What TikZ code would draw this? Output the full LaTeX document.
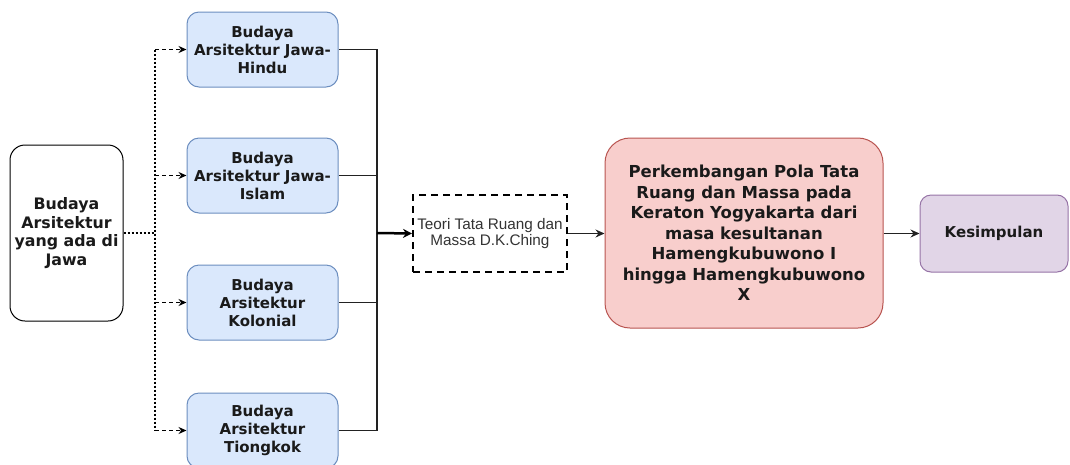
\documentclass[tikz,border=0pt]{standalone}
\usepackage{fontspec}
\setmainfont{DejaVu Sans}
\newfontfamily\arialf{Liberation Sans}
\usetikzlibrary{arrows.meta,positioning}
\definecolor{bluefill}{HTML}{DAE8FC}
\definecolor{bluedraw}{HTML}{6C8EBF}
\definecolor{pinkfill}{HTML}{F8CECC}
\definecolor{pinkdraw}{HTML}{B85450}
\definecolor{purpfill}{HTML}{E1D5E7}
\definecolor{purpdraw}{HTML}{9673A6}
\definecolor{txt}{HTML}{1A1A1A}
\definecolor{linec}{HTML}{222222}
\tikzset{
  box/.style={rectangle, draw, line width=1pt, align=center, inner sep=2pt, text=txt,
    font=\bfseries\fontsize{15}{18}\selectfont},
  leftbox/.style={box, draw=black, fill=white, rounded corners=15pt, minimum width=113pt, minimum height=176pt,
    font=\bfseries\fontsize{15.8}{18.5}\selectfont},
  bluebox/.style={box, draw=bluedraw, fill=bluefill, rounded corners=12pt, minimum width=151pt, minimum height=75pt},
  pinkbox/.style={box, draw=pinkdraw, fill=pinkfill, rounded corners=25pt, minimum width=278pt, minimum height=190pt,
    font=\bfseries\fontsize{16.5}{20.5}\selectfont},
  purpbox/.style={box, draw=purpdraw, fill=purpfill, rounded corners=11pt, minimum width=148pt, minimum height=77pt},
  theorybox/.style={rectangle, draw=black, line width=2pt, dash pattern=on 7pt off 5pt, fill=white,
    minimum width=154pt, minimum height=77pt, align=center, inner sep=0pt, text=black!80,
    font=\arialf\fontsize{15.3}{16.5}\selectfont},
  dotline/.style={draw=black, line width=2pt, dash pattern=on 2pt off 2pt},
  brancharrow/.style={draw=black, line width=1.2pt, dash pattern=on 4pt off 3pt, -{Stealth[length=8pt,width=7pt]}},
  solidline/.style={draw=linec, line width=1.1pt},
  thickarrow/.style={draw=black, line width=2.5pt, -{Stealth[length=9pt,width=9pt]}},
  normarrow/.style={draw=linec, line width=1.2pt, -{Stealth[length=9pt,width=8pt]}},
}
\begin{document}
\begin{tikzpicture}[x=1pt,y=-1pt]
\useasboundingbox (0,0) rectangle (1070,464);
\node[leftbox] (src) at (66.5,233) {Budaya\\Arsitektur\\yang ada di\\Jawa};
\node[bluebox] (b1) at (262.5,49.5) {Budaya\\Arsitektur Jawa-\\Hindu};
\node[bluebox] (b2) at (262.5,175.5) {Budaya\\Arsitektur Jawa-\\Islam};
\node[bluebox] (b3) at (262.5,302.5) {Budaya\\Arsitektur\\Kolonial};
\node[bluebox] (b4) at (262.5,430.5) {Budaya\\Arsitektur\\Tiongkok};
\node[theorybox] (teori) at (490,233.5) {Teori Tata Ruang dan\\Massa D.K.Ching};
\node[pinkbox] (main) at (744,233) {Perkembangan Pola Tata\\Ruang dan Massa pada\\Keraton Yogyakarta dari\\masa kesultanan\\Hamengkubuwono I\\hingga Hamengkubuwono\\X};
\node[purpbox] (kes) at (994,233.5) {Kesimpulan};
\coordinate (tl) at (155,233);
\coordinate (tr) at (377,233);
% dotted distribution
\draw[dotline] (src.east) -- (tl);
\draw[dotline] (tl |- b1.west) -- (tl |- b4.west);
\foreach \b in {b1,b2,b3,b4}
  \draw[brancharrow] (tl |- \b.west) -- (\b.west);
% solid collection
\foreach \b in {b1,b2,b3,b4}
  \draw[solidline] (\b.east) -| (tr);
\draw[thickarrow] (tr) -- (teori.west);
\draw[normarrow] (teori.east) -- (main.west |- teori.east);
\draw[normarrow] (main.east |- kes.west) -- (kes.west);
\end{tikzpicture}
\end{document}
